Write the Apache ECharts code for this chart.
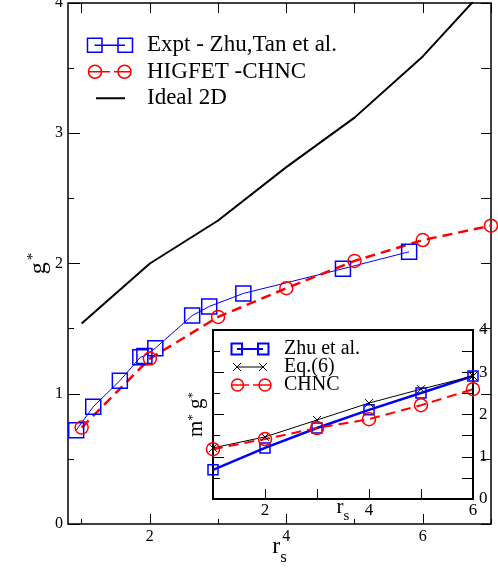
<!DOCTYPE html>
<html>
<head>
<meta charset="utf-8">
<script src="https://cdn.jsdelivr.net/npm/echarts@6/dist/echarts.min.js"></script>
<style>
html,body{margin:0;padding:0;background:#fff;}
#chart{width:498px;height:571px;}
</style>
</head>
<body>
<div id="chart"></div>
<script>
// main panel: g* vs rs
var exptX = [0.92, 1.17, 1.56, 1.86, 1.92, 2.08, 2.62, 2.87, 3.37, 4.83, 5.80];
var exptY = [0.72, 0.90, 1.10, 1.28, 1.29, 1.35, 1.60, 1.67, 1.77, 1.96, 2.09];
var chncX = [1, 2, 3, 4, 5, 6, 7];
var chncY = [0.74, 1.27, 1.59, 1.81, 2.02, 2.18, 2.29];
var idealX = [1, 2, 3, 4, 5, 6, 7];
var idealY = [1.54, 2.00, 2.33, 2.74, 3.12, 3.59, 4.16];
var mainXMajor = [2, 4, 6];
var mainXMinor = [1, 3, 5, 7];
var mainXTop = [1, 2, 3, 4, 5, 6, 7];

// inset: m*g* vs rs
var insetX = [1, 2, 3, 4, 5, 6];
var zhuY = [0.69, 1.21, 1.68, 2.11, 2.51, 2.91];
var eq6Y = [1.21, 1.47, 1.87, 2.27, 2.60, 2.91];
var insetChncY = [1.18, 1.42, 1.68, 1.89, 2.22, 2.60];

var FONT = "'Liberation Serif','Times New Roman',serif";
var BLUE = '#0000ff', RED = '#ff0000', BLACK = '#000000';

function pairs(xs, ys) {
	var out = [];
	for (var i = 0; i < xs.length; i++) {
		out.push([xs[i], ys[i]]);
	}
	return out;
}

//空心符号+线
function lineSerie(name, xi, yi, data, color, width, dash, symbol, size) {
	return {
		name: name,
		type: 'line',
		xAxisIndex: xi,
		yAxisIndex: yi,
		data: data,
		symbol: symbol,
		symbolSize: size,
		showAllSymbol: true,
		animation: false,
		itemStyle: {color: 'rgba(0,0,0,0)', borderColor: color, borderWidth: 1.5},
		lineStyle: {color: color, width: width, type: dash},
		emphasis: {disabled: true}
	};
}

var crossPath = 'path://M0,0 L10,10 M10,0 L0,10';

var series = [
	lineSerie('Expt - Zhu,Tan et al.', 0, 0, pairs(exptX, exptY), BLUE, 1, 'solid', 'rect', 15),
	lineSerie('HIGFET -CHNC', 0, 0, pairs(chncX, chncY), RED, 2.5, [10, 6], 'circle', 13),
	lineSerie('Ideal 2D', 0, 0, pairs(idealX, idealY), BLACK, 2, 'solid', 'none', 0),
	lineSerie('Zhu et al.', 3, 2, pairs(insetX, zhuY), BLUE, 2.5, 'solid', 'rect', 10),
	lineSerie('Eq.(6)', 3, 2, pairs(insetX, eq6Y), BLACK, 1, 'solid', crossPath, 8),
	lineSerie('CHNC', 3, 2, pairs(insetX, insetChncY), RED, 2, [10, 6], 'circle', 13)
];
series[4].itemStyle = {color: 'rgba(0,0,0,0)', borderColor: BLACK, borderWidth: 1};

function legendItem(name, icon, color, lw) {
	return {name: name, icon: icon, itemStyle: {color: 'rgba(0,0,0,0)', borderColor: color, borderWidth: lw}};
}

// legend icons: symbol-line-symbol, the first M pair fixes the box
var mainLegend = [
	legendItem('Expt - Zhu,Tan et al.', 'path://M0,0 M55,15 M0.5,0.5 H15 V14.5 H0.5 Z M7.5,7.5 H38 M31,0.5 H45.5 V14.5 H31 Z', BLUE, 1.5),
	legendItem('HIGFET -CHNC', 'path://M0,0 M55,15 M1.5,7.5 A6.5,6.5 0 1,1 14.5,7.5 A6.5,6.5 0 1,1 1.5,7.5 M2,7.5 H23 M27,7.5 H44 M31,7.5 A6.5,6.5 0 1,1 44,7.5 A6.5,6.5 0 1,1 31,7.5', RED, 1.5),
	legendItem('Ideal 2D', 'path://M0,0 M55,15 M9,7.5 H38', BLACK, 2)
];
var insetLegend = [
	legendItem('Zhu et al.', 'path://M0,0 M48,12 M0.5,0.5 H11 V11.5 H0.5 Z M6,6 H32 M27,0.5 H37.5 V11.5 H27 Z', BLUE, 2),
	legendItem('Eq.(6)', 'path://M0,0 M48,12 M2,2 L10,10 M10,2 L2,10 M28,2 L36,10 M36,2 L28,10 M6,6 H32', BLACK, 1),
	legendItem('CHNC', 'path://M0,0 M48,12 M0.5,6 A6,6 0 1,1 12.5,6 A6,6 0 1,1 0.5,6 M1,6 H18 M22,6 H40 M28,6 A6,6 0 1,1 40,6 A6,6 0 1,1 28,6', RED, 1.5)
];

function tickAxis(opt) {
	var axis = {
		type: 'value',
		splitLine: {show: false},
		axisLine: {show: false},
		axisTick: {show: true, inside: true, length: 10, lineStyle: {color: BLACK, width: 1}},
		axisLabel: {show: false, color: BLACK, fontFamily: FONT, fontSize: 16},
		nameMoveOverlap: false,
		nameTextStyle: {color: BLACK, fontFamily: FONT}
	};
	for (var k in opt) {
		axis[k] = opt[k];
	}
	return axis;
}

var xAxis = [
	// 0 main bottom, long ticks + labels
	tickAxis({gridIndex: 0, position: 'bottom', min: 0.8, max: 7,
		axisTick: {show: true, inside: true, length: 10, customValues: mainXMajor, lineStyle: {color: BLACK}},
		axisLabel: {show: true, customValues: mainXMajor, margin: 5, color: BLACK, fontFamily: FONT, fontSize: 16},
		name: '{r|r}{s|s}', nameLocation: 'middle', nameGap: 11,
		nameTextStyle: {rich: {r: {fontFamily: FONT, fontSize: 24, color: BLACK, verticalAlign: 'top'},
			s: {fontFamily: FONT, fontSize: 17, color: BLACK, verticalAlign: 'bottom', padding: [14, 0, 0, 0]}}}}),
	// 1 main bottom, short ticks
	tickAxis({gridIndex: 0, position: 'bottom', min: 0.8, max: 7,
		axisTick: {show: true, inside: true, length: 5, customValues: mainXMinor, lineStyle: {color: BLACK}}}),
	// 2 main top
	tickAxis({gridIndex: 0, position: 'top', min: 0.8, max: 7,
		axisTick: {show: true, inside: true, length: 10, customValues: mainXTop, lineStyle: {color: BLACK}}}),
	// 3 inset bottom
	tickAxis({gridIndex: 1, position: 'bottom', min: 1, max: 6, interval: 1,
		axisLabel: {show: true, margin: 3, color: BLACK, fontFamily: FONT, fontSize: 17,
			formatter: function (v) { return v % 2 == 0 ? String(v) : ''; }},
		name: '{r|r}{s|s}', nameLocation: 'middle', nameGap: -2,
		nameTextStyle: {rich: {r: {fontFamily: FONT, fontSize: 21, color: BLACK, verticalAlign: 'top'},
			s: {fontFamily: FONT, fontSize: 15, color: BLACK, verticalAlign: 'bottom', padding: [12, 0, 0, 0]}}}})
];

var yAxis = [
	// 0 main left
	tickAxis({gridIndex: 0, position: 'left', min: 0, max: 4, interval: 1,
		axisTick: {show: true, inside: true, length: 12, lineStyle: {color: BLACK}},
		minorTick: {show: true, splitNumber: 2, length: 6, lineStyle: {color: BLACK}},
		axisLabel: {show: true, margin: 5, color: BLACK, fontFamily: FONT, fontSize: 16},
		name: '{g|g}{s|*}', nameLocation: 'middle', nameGap: 17,
		nameTextStyle: {rich: {g: {fontFamily: FONT, fontSize: 24, color: BLACK, verticalAlign: 'bottom'},
			s: {fontFamily: FONT, fontSize: 15, color: BLACK, verticalAlign: 'top', padding: [0, 0, 10, 2]}}}}),
	// 1 main right
	tickAxis({gridIndex: 0, position: 'right', min: 0, max: 4, interval: 1,
		axisTick: {show: true, inside: true, length: 10, lineStyle: {color: BLACK}},
		minorTick: {show: true, splitNumber: 2, length: 10, lineStyle: {color: BLACK}}}),
	// 2 inset left
	tickAxis({gridIndex: 1, position: 'left', min: 0, max: 4, interval: 1,
		axisTick: {show: true, inside: true, length: 11, lineStyle: {color: BLACK}},
		minorTick: {show: true, splitNumber: 2, length: 7, lineStyle: {color: BLACK}},
		name: 'm{s|*} g{s|*}', nameLocation: 'middle', nameGap: 6,
		nameTextStyle: {fontFamily: FONT, fontSize: 21, color: BLACK,
			rich: {s: {fontFamily: FONT, fontSize: 13, color: BLACK, verticalAlign: 'top', padding: [0, 0, 8, 0]}}}}),
	// 3 inset right
	tickAxis({gridIndex: 1, position: 'right', min: 0, max: 4, interval: 1,
		axisTick: {show: true, inside: true, length: 11, lineStyle: {color: BLACK}},
		minorTick: {show: true, splitNumber: 2, length: 11, lineStyle: {color: BLACK}},
		axisLabel: {show: true, margin: 6, color: BLACK, fontFamily: FONT, fontSize: 17}})
];

var option = {
	backgroundColor: '#ffffff',
	animation: false,
	grid: [
		{left: 68, right: 7, top: 3, bottom: 47, show: true, borderColor: BLACK, borderWidth: 1.5, backgroundColor: 'transparent', outerBoundsMode: 'none'},
		{left: 213, right: 25, top: 330, bottom: 72, show: true, borderColor: BLACK, borderWidth: 2, backgroundColor: '#ffffff', outerBoundsMode: 'none'}
	],
	legend: [
		{orient: 'vertical', left: 86, top: 32, padding: 0, itemGap: 0, itemWidth: 55, itemHeight: 15,
			selectedMode: false, data: mainLegend,
			textStyle: {fontFamily: FONT, fontSize: 23, color: BLACK, lineHeight: 26.5}},
		{orient: 'vertical', left: 230, top: 339, padding: 0, itemGap: -2, itemWidth: 48, itemHeight: 12,
			selectedMode: false, data: insetLegend,
			textStyle: {fontFamily: FONT, fontSize: 20, color: BLACK, lineHeight: 18}}
	],
	xAxis: xAxis,
	yAxis: yAxis,
	series: series
};

var myChart = echarts.init(document.getElementById('chart'), null, {renderer: 'canvas'});
myChart.setOption(option);
</script>
</body>
</html>
